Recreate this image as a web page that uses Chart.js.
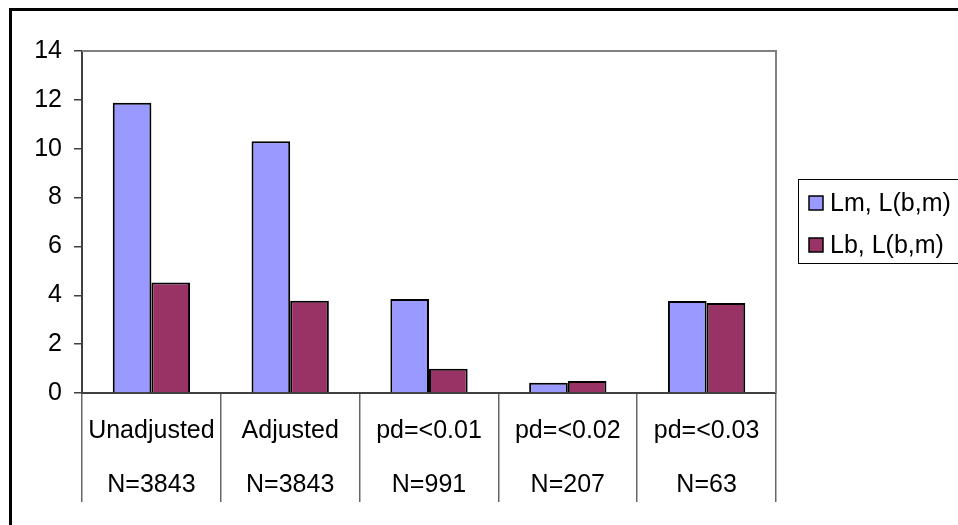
<!DOCTYPE html>
<html>
<head>
<meta charset="utf-8">
<script src="https://cdn.jsdelivr.net/npm/chart.js@4.4.1/dist/chart.umd.min.js"></script>
<style>
  html, body { margin: 0; padding: 0; background: #ffffff; }
  #grafico { display: block; }
</style>
</head>
<body>
<canvas id="grafico" width="958" height="525"></canvas>
<script>
// Datos
let categorias = [
  ['Unadjusted', 'N=3843'],
  ['Adjusted', 'N=3843'],
  ['pd=<0.01', 'N=991'],
  ['pd=<0.02', 'N=207'],
  ['pd=<0.03', 'N=63']
];
let serieLm = [11.88, 10.31, 3.85, 0.42, 3.77];
let serieLb = [4.52, 3.78, 0.99, 0.49, 3.68];
let nombresSeries = ['Lm, L(b,m)', 'Lb, L(b,m)'];
let coloresSeries = ['#9999FF', '#993366'];
let ejeY = { min: 0, max: 14, paso: 2 };

let fuente = '"Liberation Sans", Arial, sans-serif';

// Marco exterior, borde del area de trazado y leyenda con recuadro
let marcoPlugin = {
  id: 'marco',
  beforeDraw: (chart) => {
    let ctx = chart.ctx;
    ctx.save();
    ctx.fillStyle = '#ffffff';
    ctx.fillRect(0, 0, chart.width, chart.height);
    ctx.strokeStyle = '#000000';
    ctx.lineWidth = 3;
    ctx.strokeRect(10.5, 9.5, chart.width + 20, chart.height + 20);
    ctx.restore();
  },
  beforeDatasetsDraw: (chart) => {
    let ctx = chart.ctx;
    let area = chart.chartArea;
    ctx.save();
    ctx.strokeStyle = '#808080';
    ctx.lineWidth = 2;
    ctx.beginPath();
    ctx.moveTo(area.left, area.top);
    ctx.lineTo(area.right, area.top);
    ctx.lineTo(area.right, area.bottom);
    ctx.stroke();
    ctx.restore();
  },
  afterDraw: (chart) => {
    let ctx = chart.ctx;
    let area = chart.chartArea;
    let x0 = area.right + 22;
    let y0 = 179;
    ctx.save();
    ctx.strokeStyle = '#000000';
    ctx.lineWidth = 1;
    ctx.strokeRect(x0 + 0.5, y0 + 0.5, 200, 84);
    ctx.font = '25px ' + fuente;
    ctx.textBaseline = 'middle';
    chart.data.datasets.forEach((ds, i) => {
      let cy = y0 + 24 + i * 42;
      ctx.fillStyle = ds.backgroundColor;
      ctx.fillRect(x0 + 11, cy - 7, 14, 14);
      ctx.lineWidth = 1.5;
      ctx.strokeRect(x0 + 11, cy - 7, 14, 14);
      ctx.fillStyle = '#000000';
      ctx.fillText(ds.label, x0 + 32, cy + 1);
    });
    ctx.restore();
  }
};

let config = {
  type: 'bar',
  data: {
    labels: categorias,
    datasets: [
      {
        label: nombresSeries[0],
        data: serieLm,
        backgroundColor: coloresSeries[0],
        borderColor: '#000000',
        borderWidth: 2
      },
      {
        label: nombresSeries[1],
        data: serieLb,
        backgroundColor: coloresSeries[1],
        borderColor: '#000000',
        borderWidth: 2
      }
    ]
  },
  options: {
    responsive: false,
    animation: false,
    events: [],
    layout: { padding: { left: 0, top: 51, right: 182, bottom: 0 } },
    datasets: {
      bar: { categoryPercentage: 0.557, barPercentage: 1 }
    },
    plugins: {
      legend: { display: false },
      tooltip: { enabled: false }
    },
    scales: {
      x: {
        offset: true,
        grid: {
          offset: true,
          drawOnChartArea: false,
          tickLength: 109,
          color: '#666666',
          lineWidth: 1.5
        },
        border: { color: '#404040', width: 2 },
        ticks: {
          color: '#000000',
          font: { family: fuente, size: 25, lineHeight: 2.16 },
          padding: -98,
          maxRotation: 0,
          autoSkip: false
        },
        afterFit: (scale) => { scale.height = 132; }
      },
      y: {
        min: ejeY.min,
        max: ejeY.max,
        grid: {
          drawOnChartArea: false,
          tickLength: 8,
          color: '#404040',
          lineWidth: 1.5
        },
        border: { color: '#404040', width: 2 },
        ticks: {
          stepSize: ejeY.paso,
          color: '#000000',
          font: { family: fuente, size: 25 },
          padding: 12
        },
        afterFit: (scale) => { scale.width = 82; }
      }
    }
  },
  plugins: [marcoPlugin]
};

let grafico = new Chart(document.getElementById('grafico'), config);
</script>
</body>
</html>
